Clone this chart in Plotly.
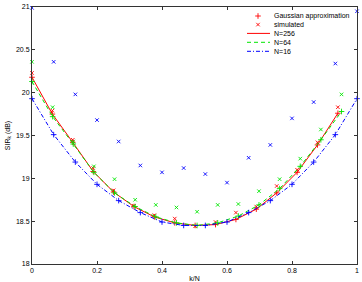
import plotly.graph_objects as go

# ---------------- data ----------------
N_values = [256, 64, 16]
step = [16, 4, 1]          # sampled subcarrier step for each N
n_pts = 16

# Gaussian approximation (dB), one value per sampled k
gauss_256 = [20.18, 19.75, 19.42, 19.08, 18.84, 18.67, 18.55, 18.48,
             18.45, 18.46, 18.52, 18.64, 18.83, 19.07, 19.39, 19.76]
gauss_64 = [20.13, 19.72, 19.40, 19.07, 18.83, 18.67, 18.55, 18.48,
            18.45, 18.48, 18.56, 18.69, 18.88, 19.14, 19.45, 19.78]
gauss_16 = [19.93, 19.51, 19.19, 18.93, 18.74, 18.60, 18.49, 18.45,
            18.45, 18.49, 18.60, 18.74, 18.93, 19.19, 19.51, 19.93]

# simulated (dB)
sim_256 = [20.23, 19.79, 19.45, 19.12, 18.86, 18.68, 18.57, 18.53,
           18.44, 18.49, 18.60, 18.67, 18.91, 19.10, 19.42, 19.83]
sim_64 = [20.36, 19.83, 19.43, 19.14, 18.99, 18.75, 18.69, 18.66,
          18.61, 18.69, 18.70, 18.85, 18.99, 19.23, 19.57, 19.98]
sim_16 = [20.99, 20.36, 19.98, 19.68, 19.43, 19.15, 19.07, 19.12,
          19.05, 18.95, 19.24, 19.39, 19.70, 19.89, 20.34, 20.95]

x_ticks = [0, 0.2, 0.4, 0.6, 0.8, 1]
y_ticks = [18, 18.5, 19, 19.5, 20, 20.5, 21]

legend_labels = ["Gaussian approximation", "simulated", "N=256", "N=64", "N=16"]

# ---------------- styling ----------------
colors = ["#ff0000", "#00e600", "#0000ff"]
dashes = ["solid", "4px,3px", "4px,2px,1px,2px"]
FONT = "Liberation Sans, Arial, Helvetica, sans-serif"

gauss = [gauss_256, gauss_64, gauss_16]
sim = [sim_256, sim_64, sim_16]

fig = go.Figure()

for N, s, g, m, c, d in zip(N_values, step, gauss, sim, colors, dashes):
    kn = [j * s / (N - 1) for j in range(n_pts)]
    fig.add_trace(go.Scatter(x=kn, y=g, mode="lines", line=dict(color=c, width=1, dash=d),
                             showlegend=False, cliponaxis=False))
    fig.add_trace(go.Scatter(x=kn, y=g, mode="markers",
                             marker=dict(symbol="cross-thin", size=4, line=dict(color=c, width=0.9)),
                             showlegend=False, cliponaxis=False))
    fig.add_trace(go.Scatter(x=kn, y=m, mode="markers",
                             marker=dict(symbol="x-thin", size=3.5, line=dict(color=c, width=0.9)),
                             showlegend=False, cliponaxis=False))

# ---------------- custom compact legend (pixel-like overlay axes) ----------------
rows = [16, 24.6, 33.4, 42.3, 51.3]
mx, lx0, lx1, tx = 258, 247, 270, 272
fig.add_trace(go.Scatter(x=[mx], y=[rows[0]], xaxis="x2", yaxis="y2", mode="markers",
                         marker=dict(symbol="cross-thin", size=4, line=dict(color=colors[0], width=0.9)),
                         showlegend=False, hoverinfo="skip"))
fig.add_trace(go.Scatter(x=[mx], y=[rows[1]], xaxis="x2", yaxis="y2", mode="markers",
                         marker=dict(symbol="x-thin", size=3.5, line=dict(color=colors[0], width=0.9)),
                         showlegend=False, hoverinfo="skip"))
for i in range(3):
    fig.add_trace(go.Scatter(x=[lx0, lx1], y=[rows[2 + i]] * 2, xaxis="x2", yaxis="y2", mode="lines",
                             line=dict(color=colors[i], width=1, dash=dashes[i]),
                             showlegend=False, hoverinfo="skip"))
for r, t in zip(rows, legend_labels):
    fig.add_annotation(x=tx, y=r, xref="x2", yref="y2", text=t, showarrow=False,
                       xanchor="left", yanchor="middle", font=dict(size=7, color="black", family=FONT))

axis_common = dict(showline=True, linecolor="#333333", linewidth=1, mirror="ticks",
                   ticks="inside", ticklen=3, tickcolor="#333333", showgrid=False,
                   zeroline=False, tickfont=dict(size=7, color="black", family=FONT))

fig.update_layout(
    width=362, height=282,
    margin=dict(l=32, r=5, t=7, b=18),
    paper_bgcolor="white", plot_bgcolor="white",
    font=dict(family=FONT, size=7, color="black"),
    showlegend=False,
    xaxis=dict(range=[0, 1], tickvals=x_ticks, ticktext=[f"{v:g}" for v in x_ticks],
               title=dict(text="k/N", font=dict(size=7), standoff=2), automargin=False, **axis_common),
    yaxis=dict(range=[18, 21], tickvals=y_ticks, ticktext=[f"{v:g}" for v in y_ticks],
               title=dict(text="SIR<sub>k</sub> (dB)", font=dict(size=7), standoff=4), automargin=False,
               **axis_common),
    xaxis2=dict(range=[32, 357], overlaying="x", visible=False, fixedrange=True),
    yaxis2=dict(range=[264, 7], overlaying="y", visible=False, fixedrange=True),
)

fig.write_html("out.html")
